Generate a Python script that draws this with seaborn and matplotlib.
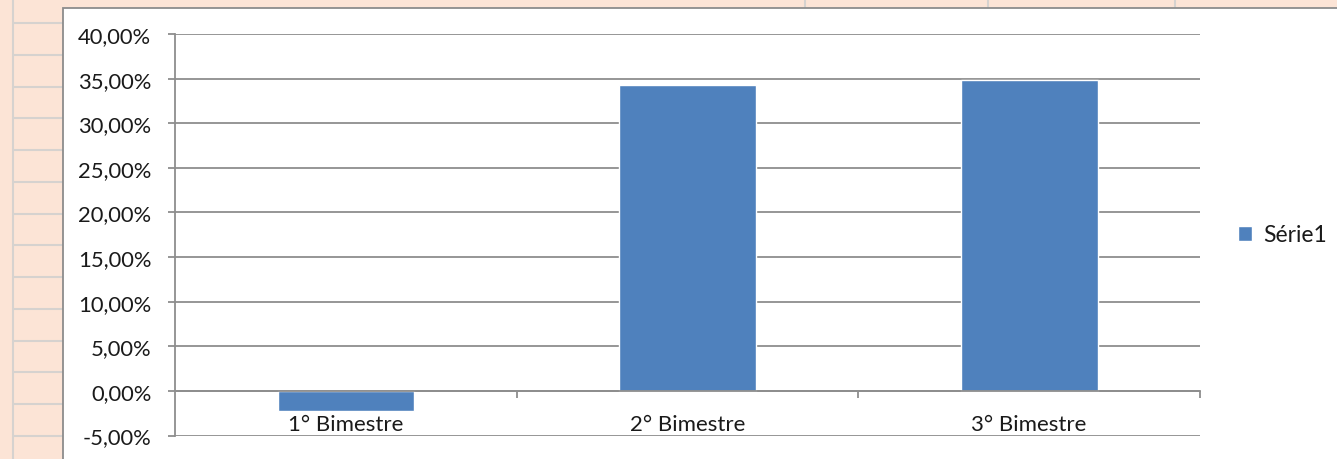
import numpy as np
import pandas as pd
import matplotlib
matplotlib.use("Agg")
import matplotlib.pyplot as plt
from matplotlib.lines import Line2D
from matplotlib.patches import Rectangle
from matplotlib.ticker import FuncFormatter, MultipleLocator, FixedLocator
import seaborn as sns

# Data
categories = ["1° Bimestre", "2° Bimestre", "3° Bimestre"]
values = [-0.022, 0.343, 0.349]
series_name = "Série1"

y_min, y_max, y_step = -0.05, 0.40, 0.05

sns.set_theme(style="white")
plt.rcParams["font.family"] = ["Lato", "DejaVu Sans"]

W, H = 1337, 460
fig = plt.figure(figsize=(W / 100, H / 100), dpi=100)
fig.patch.set_facecolor("#FCE4D6")

def fx(px):
    return px / W

def fy(py):
    return 1 - py / H

# Worksheet cell grid around the chart object
cell_line = "#D6D2CF"
fig.add_artist(Line2D([fx(13), fx(13)], [0, 1], color=cell_line, lw=1.5, zorder=-3))
for y in np.arange(24, H, 31.77):
    fig.add_artist(Line2D([fx(14), fx(62)], [fy(y), fy(y)], color=cell_line, lw=1.5, zorder=-3))
for x in [805, 988, 1175]:
    fig.add_artist(Line2D([fx(x), fx(x)], [fy(0), fy(8)], color=cell_line, lw=1.5, zorder=-3))

# Chart area
fig.add_artist(Rectangle((fx(62.5), -0.05), 1.0, fy(8.5) + 0.05,
                         facecolor="white", edgecolor="#8C8C8C", lw=1.3, zorder=-2))

# Plot area
left, right, top, bottom = 175, 1200, 35, 436.5
ax = fig.add_axes([fx(left), fy(bottom), fx(right - left), fy(top) - fy(bottom)])
ax.set_facecolor("none")
ax.set_zorder(2)

df = pd.DataFrame({"Bimestre": categories, "Valor": values})
sns.barplot(data=df, x="Bimestre", y="Valor", color="#4F81BD", saturation=1,
            width=0.4, ax=ax, label=series_name, zorder=3)

grid_color = "#8E8E8E"
text_color = "#1A1A1A"
ax.set_xlim(-0.5, len(categories) - 0.5)
ax.set_ylim(y_min, y_max)
ax.yaxis.set_major_locator(MultipleLocator(y_step))
ax.yaxis.set_major_formatter(FuncFormatter(
    lambda v, _: f"{v * 100:.2f}%".replace(".", ",").replace("-0,00", "0,00")))
ax.grid(axis="y", color=grid_color, lw=1.3, zorder=0)
ax.grid(axis="x", visible=False)

for s in ["top", "right"]:
    ax.spines[s].set_visible(False)
ax.spines["left"].set_color(grid_color)
ax.spines["left"].set_linewidth(1.3)
ax.spines["bottom"].set_position(("data", 0))
ax.spines["bottom"].set_color(grid_color)
ax.spines["bottom"].set_linewidth(1.3)
ax.spines["bottom"].set_zorder(4)

ax.tick_params(axis="y", which="major", left=True, length=5, width=1.3,
               color=grid_color, pad=12, labelsize=15.8, labelcolor=text_color)
ax.set_xticks(range(len(categories)))
ax.set_xticklabels(categories)
ax.xaxis.set_minor_locator(FixedLocator([0.5, 1.5, 2.5]))
ax.tick_params(axis="x", which="major", bottom=True, length=0, pad=16.5,
               labelsize=16, labelcolor=text_color)
ax.tick_params(axis="x", which="minor", bottom=True, length=5, width=1.3,
               color=grid_color)
for t in ax.get_xticklabels():
    t.set_fontstretch("expanded")
ax.set_xlabel("")
ax.set_ylabel("")

# Legend to the right of the plot area
handles, labels = ax.get_legend_handles_labels()
leg = ax.legend(handles, labels, loc="center left",
                bbox_to_anchor=(fx(1238), fy(236)), bbox_transform=fig.transFigure,
                frameon=False, fontsize=16.5, handlelength=0.6, handleheight=0.6,
                handletextpad=0.5, borderpad=0, borderaxespad=0)
for t in leg.get_texts():
    t.set_color(text_color)

fig.savefig("out.png", dpi=100, facecolor=fig.get_facecolor())
